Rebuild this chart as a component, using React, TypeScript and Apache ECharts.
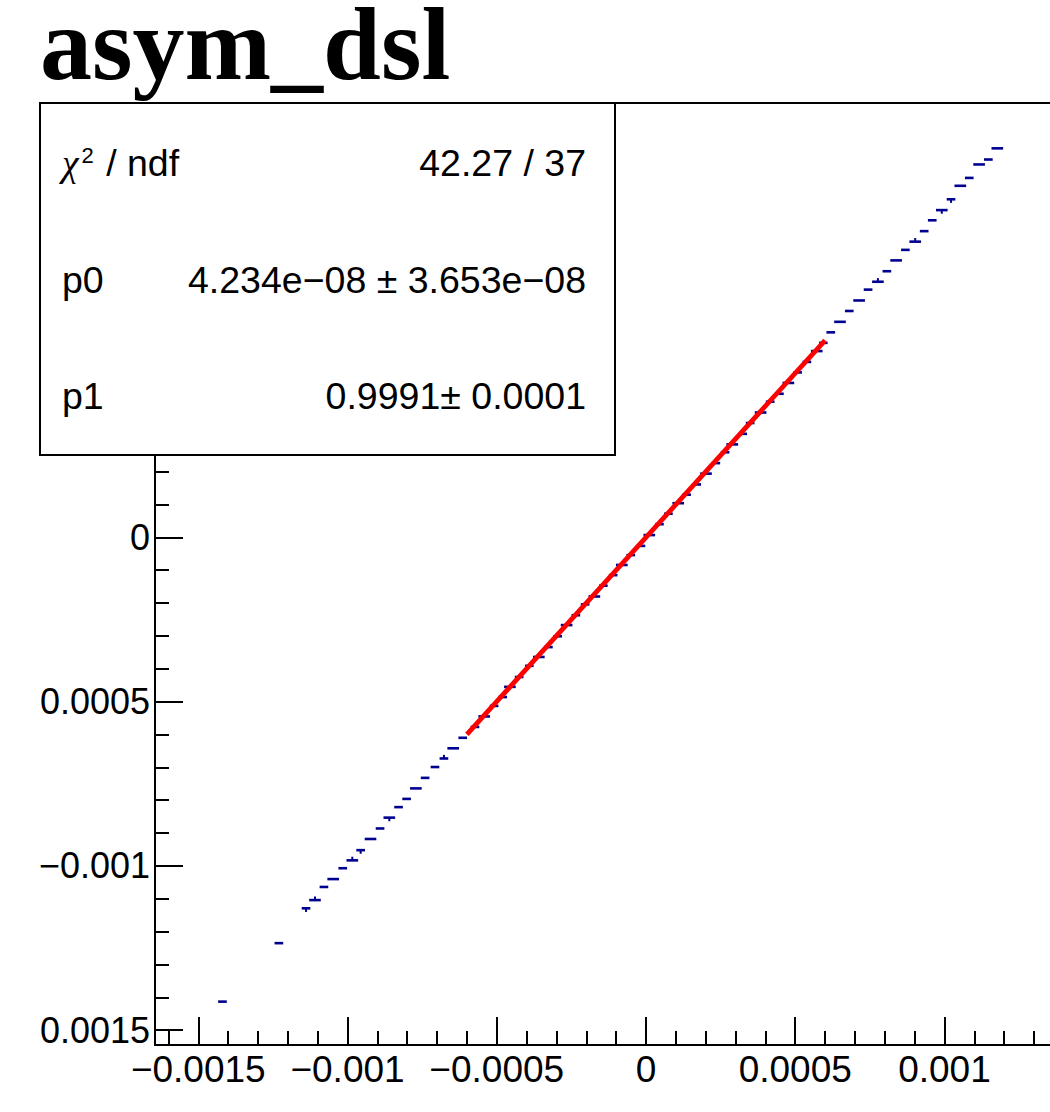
import React, { useEffect, useRef } from "react";
import * as echarts from "echarts";

// ---------- data ----------
const TITLE_TEXT = "asym_dsl";

const pointX = [
  -0.001419, -0.00123, -0.001139, -0.001109, -0.001079, -0.001048, -0.001016, -0.000984, -0.000956, -0.000923,
  -0.000891, -0.00086, -0.000829, -0.000802, -0.000771, -0.00074, -0.000707, -0.000677, -0.000646, -0.000614,
  -0.000573, -0.000542, -0.000509, -0.00048, -0.000456, -0.000425, -0.000391, -0.000359, -0.000327, -0.000296,
  -0.000266, -0.000235, -0.000204, -0.000173, -0.000143, -0.00011, -0.000081, -0.000051, -0.000017, 0.000011,
  0.000045, 0.000075, 0.000108, 0.000136, 0.00017, 0.000201, 0.000234, 0.000265, 0.000289, 0.000324,
  0.000349, 0.000384, 0.000416, 0.000447, 0.000477, 0.000508, 0.000539, 0.000572, 0.000594, 0.000619,
  0.00065, 0.000681, 0.000714, 0.000744, 0.000777, 0.000807, 0.000838, 0.000869, 0.000902, 0.000932,
  0.000959, 0.000991, 0.001022, 0.001053, 0.001083, 0.001116, 0.001147, 0.001177,
];

const pointY = [
  -0.001413, -0.001235, -0.001129, -0.001104, -0.001064, -0.00104, -0.001007, -0.000983, -0.000952, -0.000918,
  -0.000886, -0.000853, -0.000821, -0.000796, -0.000764, -0.000732, -0.000699, -0.000673, -0.000642, -0.00061,
  -0.000577, -0.000545, -0.000513, -0.000486, -0.000455, -0.000425, -0.000391, -0.000364, -0.000334, -0.000301,
  -0.000267, -0.000237, -0.000204, -0.00018, -0.000147, -0.000115, -0.000084, -0.000054, -0.000026, 0.000007,
  0.00004, 0.000072, 0.000104, 0.00013, 0.000161, 0.000194, 0.000226, 0.000259, 0.000283, 0.000315,
  0.000348, 0.00038, 0.000413, 0.000437, 0.00047, 0.000502, 0.000534, 0.000567, 0.000592, 0.000624,
  0.000656, 0.000689, 0.000721, 0.000754, 0.000778, 0.00081, 0.000843, 0.000875, 0.0009, 0.000932,
  0.000965, 0.000996, 0.001029, 0.00107, 0.001094, 0.001135, 0.00115, 0.001184,
];

// half-width x errors (narrow / wide bins)
const N = 0.0000145;
const W = 0.0000195;
const pointXErr = [
  N, N, N, W, N, W, N, W, N, W,
  N, W, N, N, W, N, N, N, W, N,
  N, W, N, N, W, N, N, W, N, N,
  W, N, N, W, N, N, W, N, N, W,
  N, N, W, N, N, W, N, N, W, N,
  N, W, N, N, W, N, N, W, N, N,
  W, N, W, N, W, N, W, N, W, N,
  N, W, N, W, N, W, N, W,
];

const E = 0.000011;
const pointYErrUp = [
  0, 0, 0, E, 0, 0, 0, E, 0, 0,
  0, 0, 0, 0, 0, 0, 0, E, 0, 0,
  0, 0, 0, 0, 0, 0, 0, 0, 0, 0,
  0, 0, 0, 0, 0, 0, 0, 0, 0, 0,
  0, 0, 0, 0, 0, 0, 0, 0, 0, 0,
  0, 0, 0, 0, 0, 0, 0, 0, 0, 0,
  0, 0, 0, 0, E, 0, 0, 0, E, 0,
  0, 0, 0, 0, 0, 0, 0, 0,
];
const pointYErrDown = [
  0, 0, E, 0, 0, 0, 0, 0, E, 0,
  0, E, 0, 0, 0, 0, 0, 0, 0, 0,
  0, 0, 0, 0, 0, 0, 0, 0, 0, 0,
  0, 0, 0, 0, 0, 0, 0, 0, 0, 0,
  0, 0, 0, 0, 0, 0, 0, 0, 0, 0,
  0, 0, 0, 0, 0, 0, 0, 0, 0, 0,
  0, 0, 0, 0, 0, 0, 0, 0, 0, 0,
  0, E, E, 0, 0, 0, 0, 0,
];

// fit line endpoints (pol1 fit over [-0.0006, 0.0006])
const fitX = [-0.0006, 0.0006];
const fitY = [-0.0005994, 0.0005995];

const statLabels = ["{c|\u03c7}{s|2} / ndf", "p0", "p1"];
const statValues = ["42.27 / 37", "4.234e\u221208 \u00b1 3.653e\u221208", "0.9991\u00b1 0.0001"];

const X_MIN = -0.001645;
const X_MAX = 0.001645;
const Y_MIN = -0.001545;
const Y_MAX = 0.001322;

const xMajor = [-0.0015, -0.001, -0.0005, 0, 0.0005, 0.001, 0.0015];
const xLabelValues = [-0.0015, -0.001, -0.0005, 0, 0.0005, 0.001];
const xTickLabels = ["\u22120.0015", "\u22120.001", "\u22120.0005", "0", "0.0005", "0.001"];
const yMajor = [-0.0015, -0.001, -0.0005, 0, 0.0005, 0.001];
const yTickLabels = ["\u22120.0015", "\u22120.001", "\u22120.0005", "0", "0.0005", "0.001"];

function minorTicks(lo: number, hi: number, majors: number[]) {
  const out: number[] = [];
  for (let k = lo; k <= hi; k++) {
    const v = k / 10000;
    if (!majors.some((m) => Math.abs(m - v) < 1e-9)) out.push(v);
  }
  return out;
}
const xMinor = minorTicks(-16, 16, xMajor);
const yMinor = minorTicks(-15, 13, yMajor);

// ---------- styles ----------
const SANS = "Liberation Sans, Arial, Helvetica, sans-serif";
const SERIF = "Liberation Serif, Times New Roman, serif";
const BLUE = "#000090";
const CHART_W = 1100;
const CHART_H = 1112;
const CHART_LEFT = 39;
const X_LABEL_SIZE = 37;
const Y_LABEL_SIZE = 36;
const STAT_SIZE = 37.5;

function lookup(values: number[], labels: string[]) {
  return (v: number) => {
    const i = values.findIndex((t) => Math.abs(t - v) < 1e-9);
    return i >= 0 ? labels[i] : "";
  };
}

export default function App() {
  const ref = useRef<HTMLDivElement>(null);

  useEffect(() => {
    if (!ref.current) return;
    const chart = echarts.init(ref.current, undefined, { renderer: "svg" });

    const pointData = pointX.map((x, i) => [x, pointY[i], pointXErr[i], pointYErrUp[i], pointYErrDown[i]]);
    const fitData = fitX.map((x, i) => [x, fitY[i]]);

    const tickStyle = { color: "#000", width: 2 };
    const hiddenLine = { show: false, onZero: false };

    const option: any = {
      animation: false,
      backgroundColor: "#fff",
      grid: {
        left: 116,
        top: 103,
        right: CHART_W - 1098,
        bottom: CHART_H - 1045,
        containLabel: false,
        outerBoundsMode: "none",
        show: true,
        borderColor: "#000",
        borderWidth: 2,
        backgroundColor: "transparent",
      },
      xAxis: [
        {
          type: "value",
          min: X_MIN,
          max: X_MAX,
          position: "bottom",
          axisLine: hiddenLine,
          splitLine: { show: false },
          axisTick: { show: true, inside: true, length: 28, lineStyle: tickStyle, customValues: xMajor },
          axisLabel: {
            show: true,
            customValues: xLabelValues,
            formatter: lookup(xLabelValues, xTickLabels),
            fontSize: X_LABEL_SIZE,
            fontFamily: SANS,
            color: "#000",
            margin: 6,
          },
        },
        {
          type: "value",
          min: X_MIN,
          max: X_MAX,
          position: "bottom",
          axisLine: hiddenLine,
          splitLine: { show: false },
          axisTick: { show: true, inside: true, length: 14, lineStyle: tickStyle, customValues: xMinor },
          axisLabel: { show: false },
        },
      ],
      yAxis: [
        {
          type: "value",
          min: Y_MIN,
          max: Y_MAX,
          position: "left",
          axisLine: hiddenLine,
          splitLine: { show: false },
          axisTick: { show: true, inside: true, length: 28, lineStyle: tickStyle, customValues: yMajor },
          axisLabel: {
            show: true,
            customValues: yMajor,
            formatter: lookup(yMajor, yTickLabels),
            fontSize: Y_LABEL_SIZE,
            fontFamily: SANS,
            color: "#000",
            margin: 5,
          },
        },
        {
          type: "value",
          min: Y_MIN,
          max: Y_MAX,
          position: "left",
          axisLine: hiddenLine,
          splitLine: { show: false },
          axisTick: { show: true, inside: true, length: 14, lineStyle: tickStyle, customValues: yMinor },
          axisLabel: { show: false },
        },
      ],
      series: [
        {
          type: "custom",
          xAxisIndex: 0,
          yAxisIndex: 0,
          z: 2,
          encode: { x: 0, y: 1 },
          data: pointData,
          renderItem: (params: any, api: any) => {
            const x = api.value(0);
            const y = api.value(1);
            const ex = api.value(2);
            const eu = api.value(3);
            const ed = api.value(4);
            const pl = api.coord([x - ex, y]);
            const pr = api.coord([x + ex, y]);
            const children: any[] = [
              {
                type: "line",
                shape: { x1: pl[0], y1: pl[1], x2: pr[0], y2: pr[1] },
                style: { stroke: BLUE, lineWidth: 2.6 },
              },
            ];
            if (eu > 0 || ed > 0) {
              const pt = api.coord([x, y + eu]);
              const pb = api.coord([x, y - ed]);
              children.push({
                type: "line",
                shape: { x1: pt[0], y1: pt[1], x2: pb[0], y2: pb[1] },
                style: { stroke: BLUE, lineWidth: 2 },
              });
            }
            return { type: "group", children };
          },
        },
        {
          type: "line",
          xAxisIndex: 0,
          yAxisIndex: 0,
          z: 3,
          data: fitData,
          symbol: "none",
          showSymbol: false,
          lineStyle: { color: "#ff0000", width: 4.8 },
        },
      ],
      graphic: [
        {
          type: "text",
          z: 100,
          x: 1,
          y: 43,
          style: {
            text: TITLE_TEXT,
            fontSize: 104,
            fontWeight: "bold",
            fontFamily: SERIF,
            fill: "#000",
            align: "left",
            verticalAlign: "middle",
            textAlign: "left",
            textVerticalAlign: "middle",
          },
        },
        {
          type: "group",
          z: 100,
          children: [
            {
              type: "rect",
              z: 100,
              shape: { x: 1, y: 103, width: 575, height: 352 },
              style: { fill: "#fff", stroke: "#000", lineWidth: 2 },
            },
            ...statLabels.map((t, i) => ({
              type: "text",
              z: 101,
              x: 23,
              y: 163 + i * 116.5,
              style: {
                text: t,
                fontSize: STAT_SIZE,
                fontFamily: SANS,
                fill: "#000",
                align: "left",
                verticalAlign: "middle",
                textAlign: "left",
                textVerticalAlign: "middle",
                rich: {
                  c: { fontSize: STAT_SIZE, fontFamily: SERIF, fontStyle: "italic", fill: "#000", color: "#000" },
                  s: {
                    fontSize: 22,
                    fontFamily: SANS,
                    fill: "#000",
                    color: "#000",
                    verticalAlign: "top",
                    padding: [0, 2, 0, 3],
                  },
                },
              },
            })),
            ...statValues.map((t, i) => ({
              type: "text",
              z: 101,
              x: 547,
              y: 163 + i * 116.5,
              style: {
                text: t,
                fontSize: STAT_SIZE,
                fontFamily: SANS,
                fill: "#000",
                align: "right",
                verticalAlign: "middle",
                textAlign: "right",
                textVerticalAlign: "middle",
              },
            })),
          ],
        },
      ],
    };

    chart.setOption(option);
    return () => chart.dispose();
  }, []);

  return (
    <div
      style={{
        position: "absolute",
        left: 0,
        top: 0,
        width: 1050,
        height: 1112,
        overflow: "hidden",
        background: "#fff",
      }}
    >
      <div
        ref={ref}
        style={{ position: "absolute", left: CHART_LEFT, top: 0, width: CHART_W, height: CHART_H }}
      />
    </div>
  );
}
